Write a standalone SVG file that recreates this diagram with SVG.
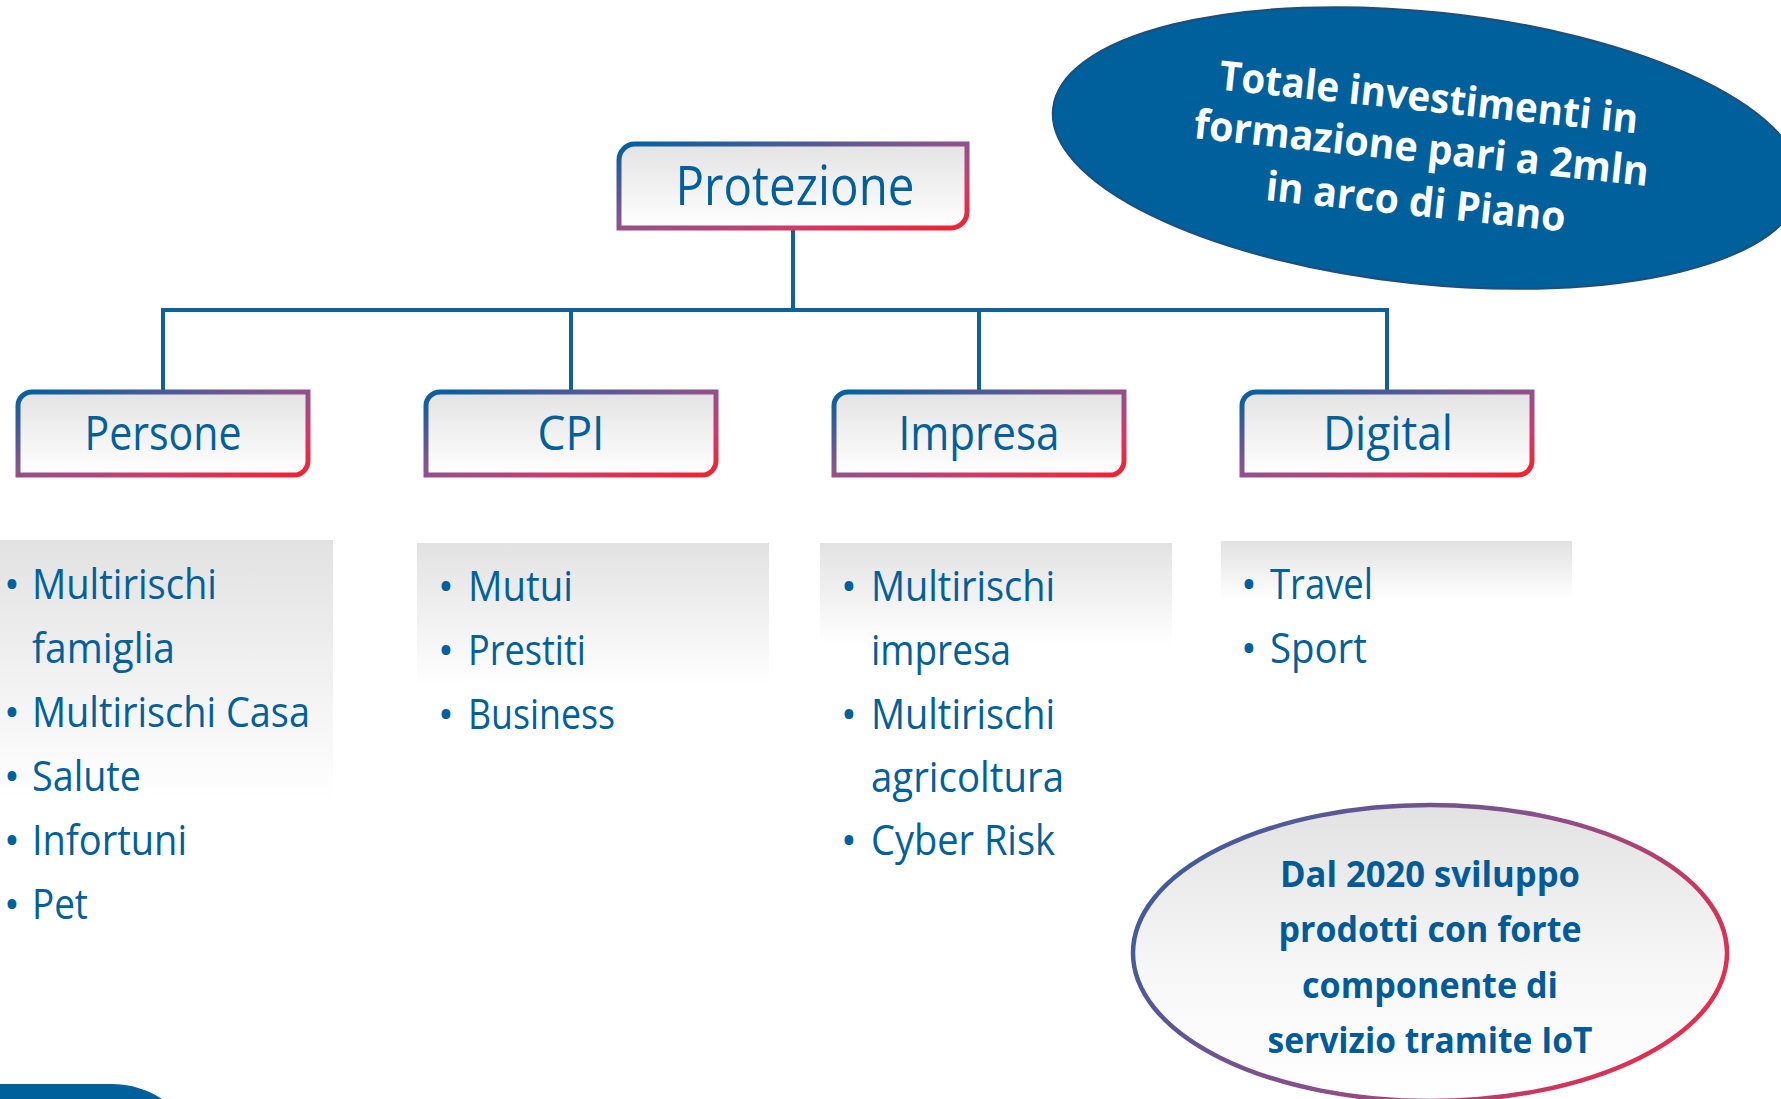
<svg xmlns="http://www.w3.org/2000/svg" width="1781" height="1099" viewBox="0 0 1781 1099">
<defs>
<linearGradient id="gStroke" x1="0" y1="0" x2="1" y2="1">
<stop offset="0" stop-color="#0061a0"/>
<stop offset="0.45" stop-color="#865590"/>
<stop offset="0.75" stop-color="#d03a68"/>
<stop offset="1" stop-color="#f0222f"/>
</linearGradient>
<linearGradient id="gBoxFill" x1="0" y1="0" x2="0" y2="1">
<stop offset="0" stop-color="#e3e3e3"/>
<stop offset="1" stop-color="#ffffff"/>
</linearGradient>
<linearGradient id="gListBg" x1="0" y1="0" x2="0" y2="1">
<stop offset="0" stop-color="#e2e2e2"/>
<stop offset="0.95" stop-color="#ffffff"/>
</linearGradient>
<linearGradient id="gEllStroke" x1="0" y1="0.3" x2="1" y2="0.7">
<stop offset="0" stop-color="#3d5c9c"/>
<stop offset="0.5" stop-color="#8a4f88"/>
<stop offset="1" stop-color="#ec2a48"/>
</linearGradient>
<linearGradient id="gEllFill" x1="0" y1="0" x2="0" y2="1">
<stop offset="0" stop-color="#e2e2e2"/>
<stop offset="0.6" stop-color="#f8f8f8"/>
<stop offset="1" stop-color="#ffffff"/>
</linearGradient>
</defs>
<style>
.box{fill:url(#gBoxFill);stroke:url(#gStroke);stroke-width:5;}
.lbl{font-family:"Open Sans","Noto Sans","Liberation Sans",sans-serif;fill:#00609c;text-anchor:middle;}
.li{font-family:"Open Sans","Noto Sans","Liberation Sans",sans-serif;fill:#00609c;font-size:42px;}
.bul{font-family:"Open Sans","Noto Sans","Liberation Sans",sans-serif;fill:#00609c;font-size:42px;text-anchor:middle;}
.conn{stroke:#0f609c;stroke-width:4;fill:none;stroke-linecap:square;}
.wt{font-family:"Open Sans","Noto Sans","Liberation Sans",sans-serif;font-weight:bold;fill:#ffffff;font-size:41px;text-anchor:middle;}
.bt{font-family:"Open Sans","Noto Sans","Liberation Sans",sans-serif;font-weight:bold;fill:#005b98;font-size:35px;text-anchor:middle;}
</style>
<rect width="1781" height="1099" fill="#ffffff"/>

<g id="connectors">
<line class="conn" x1="793" y1="230" x2="793" y2="310"/>
<line class="conn" x1="163" y1="310" x2="1387" y2="310"/>
<line class="conn" x1="163" y1="310" x2="163" y2="391"/>
<line class="conn" x1="571" y1="310" x2="571" y2="391"/>
<line class="conn" x1="979" y1="310" x2="979" y2="391"/>
<line class="conn" x1="1387" y1="310" x2="1387" y2="391"/>
</g>

<g id="protezione">
<path class="box" d="M619,228 V160 A16,16 0 0 1 635,144 H967 V212 A16,16 0 0 1 951,228 Z"/>
<text class="lbl" x="795" y="205" font-size="54" textLength="239" lengthAdjust="spacingAndGlyphs">Protezione</text>
</g>

<g id="persone">
<path class="box" d="M18,475 V406 A14,14 0 0 1 32,392 H308 V461 A14,14 0 0 1 294,475 Z"/>
<text class="lbl" x="163" y="450" font-size="48" textLength="157" lengthAdjust="spacingAndGlyphs">Persone</text>
</g>
<g id="cpi">
<path class="box" d="M426,475 V406 A14,14 0 0 1 440,392 H716 V461 A14,14 0 0 1 702,475 Z"/>
<text class="lbl" x="571" y="450" font-size="48" textLength="67" lengthAdjust="spacingAndGlyphs">CPI</text>
</g>
<g id="impresa">
<path class="box" d="M834,475 V406 A14,14 0 0 1 848,392 H1124 V461 A14,14 0 0 1 1110,475 Z"/>
<text class="lbl" x="979" y="450" font-size="48" textLength="161" lengthAdjust="spacingAndGlyphs">Impresa</text>
</g>
<g id="digital">
<path class="box" d="M1242,475 V406 A14,14 0 0 1 1256,392 H1532 V461 A14,14 0 0 1 1518,475 Z"/>
<text class="lbl" x="1388" y="450" font-size="48" textLength="130" lengthAdjust="spacingAndGlyphs">Digital</text>
</g>

<g id="list-persone">
<rect x="0" y="540" width="333" height="275" fill="url(#gListBg)"/>
<text class="bul" x="12" y="599">•</text>
<text class="li" x="32" y="599" textLength="185" lengthAdjust="spacingAndGlyphs">Multirischi</text>
<text class="li" x="32" y="663" textLength="143" lengthAdjust="spacingAndGlyphs">famiglia</text>
<text class="bul" x="12" y="727">•</text>
<text class="li" x="32" y="727" textLength="278" lengthAdjust="spacingAndGlyphs">Multirischi Casa</text>
<text class="bul" x="12" y="791">•</text>
<text class="li" x="32" y="791" textLength="109" lengthAdjust="spacingAndGlyphs">Salute</text>
<text class="bul" x="12" y="855">•</text>
<text class="li" x="32" y="855" textLength="155" lengthAdjust="spacingAndGlyphs">Infortuni</text>
<text class="bul" x="12" y="919">•</text>
<text class="li" x="32" y="919" textLength="56" lengthAdjust="spacingAndGlyphs">Pet</text>
</g>

<g id="list-cpi">
<rect x="417" y="543" width="352" height="152" fill="url(#gListBg)"/>
<text class="bul" x="446" y="601">•</text>
<text class="li" x="468" y="601" textLength="105" lengthAdjust="spacingAndGlyphs">Mutui</text>
<text class="bul" x="446" y="665">•</text>
<text class="li" x="468" y="665" textLength="118" lengthAdjust="spacingAndGlyphs">Prestiti</text>
<text class="bul" x="446" y="729">•</text>
<text class="li" x="468" y="729" textLength="147" lengthAdjust="spacingAndGlyphs">Business</text>
</g>

<g id="list-impresa">
<rect x="820" y="543" width="352" height="107" fill="url(#gListBg)"/>
<text class="bul" x="849" y="601">•</text>
<text class="li" x="871" y="601" textLength="184" lengthAdjust="spacingAndGlyphs">Multirischi</text>
<text class="li" x="871" y="665" textLength="140" lengthAdjust="spacingAndGlyphs">impresa</text>
<text class="bul" x="849" y="729">•</text>
<text class="li" x="871" y="729" textLength="184" lengthAdjust="spacingAndGlyphs">Multirischi</text>
<text class="li" x="871" y="792" textLength="193" lengthAdjust="spacingAndGlyphs">agricoltura</text>
<text class="bul" x="849" y="855">•</text>
<text class="li" x="871" y="855" textLength="184" lengthAdjust="spacingAndGlyphs">Cyber Risk</text>
</g>

<g id="list-digital">
<rect x="1221" y="541" width="351" height="62" fill="url(#gListBg)"/>
<text class="bul" x="1249" y="599">•</text>
<text class="li" x="1270" y="599" textLength="103" lengthAdjust="spacingAndGlyphs">Travel</text>
<text class="bul" x="1249" y="663">•</text>
<text class="li" x="1270" y="663" textLength="97" lengthAdjust="spacingAndGlyphs">Sport</text>
</g>

<g id="investimenti">
<ellipse cx="1427" cy="148" rx="376" ry="136" transform="rotate(6 1427 148)" fill="#00609c" stroke="#1d4f7a" stroke-width="2"/>
<g transform="rotate(6 1420 162)">
<text class="wt" x="1422" y="111" textLength="421" lengthAdjust="spacingAndGlyphs">Totale investimenti in</text>
<text class="wt" x="1420" y="162" textLength="457" lengthAdjust="spacingAndGlyphs">formazione pari a 2mln</text>
<text class="wt" x="1420" y="216" textLength="301" lengthAdjust="spacingAndGlyphs">in arco di Piano</text>
</g>
</g>

<g id="iot">
<ellipse cx="1430" cy="953" rx="297" ry="148" fill="url(#gEllFill)" stroke="url(#gEllStroke)" stroke-width="4.5"/>
<text class="bt" x="1430" y="887" textLength="300" lengthAdjust="spacingAndGlyphs">Dal 2020 sviluppo</text>
<text class="bt" x="1430" y="942" textLength="303" lengthAdjust="spacingAndGlyphs">prodotti con forte</text>
<text class="bt" x="1430" y="998" textLength="256" lengthAdjust="spacingAndGlyphs">componente di</text>
<text class="bt" x="1430" y="1053" textLength="325" lengthAdjust="spacingAndGlyphs">servizio tramite IoT</text>
</g>

<path id="corner-shape" d="M0,1084 H110 C132,1084 148,1090 162,1099 H0 Z" fill="#00609c"/>
</svg>
